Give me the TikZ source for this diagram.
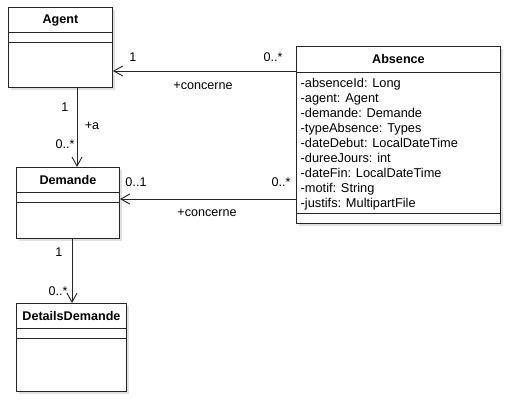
\documentclass[tikz,border=0pt]{standalone}
\usepackage{fontspec}
\setmainfont{Liberation Sans}
\usepackage{tikz}
\usetikzlibrary{positioning, arrows.meta, calc, shadows}

\begin{document}
\begin{tikzpicture}[x=1pt, y=-1pt,
    classbox/.style={draw=black!85, line width=0.9pt, fill=white, anchor=north west, inner sep=0pt,
        drop shadow={shadow xshift=2.5pt, shadow yshift=-2.5pt, opacity=0.12, fill=black}},
    classname/.style={font=\fontsize{12.6}{14}\selectfont\bfseries, anchor=base, inner sep=0pt},
    attr/.style={font=\fontsize{12.8}{14}\selectfont, anchor=base west, inner sep=0pt},
    mult/.style={font=\fontsize{12.6}{14}\selectfont, inner sep=0pt},
    divider/.style={draw=black!85, line width=0.9pt},
    assoc/.style={draw=black!85, line width=0.9pt, -{Straight Barb[length=9pt, width=10pt, line width=0.9pt]}}
    ]
        \useasboundingbox[fill=white] (0,0) rectangle (511,401);

        % classes
        \node[classbox, minimum width=104pt, minimum height=80pt] (agent) at (8,7) {};
        \node[classbox, minimum width=103pt, minimum height=71pt] (demande) at (16,167) {};
        \node[classbox, minimum width=110pt, minimum height=88pt] (details) at (16,303) {};
        \node[classbox, minimum width=204pt, minimum height=177pt] (absence) at (296,46) {};

        % class names
        \node[classname] (agentname) at ($(agent.north)+(0,17)$) {Agent};
        \node[classname] (demandename) at ($(demande.north)+(0,17)$) {Demande};
        \node[classname] (detailsname) at ($(details.north)+(0,17.5)$) {DetailsDemande};
        \node[classname] (absencename) at ($(absence.north)+(0,18)$) {Absence};

        % compartments of the classes without attributes
        \foreach \cls in {agent,demande,details}
        {
            \draw[divider] ($(\cls.north west)+(0,25)$) -- ($(\cls.north east)+(0,25)$);
            \draw[divider] ($(\cls.north west)+(0,35)$) -- ($(\cls.north east)+(0,35)$);
        }

        % compartments of Absence
        \draw[divider] ($(absence.north west)+(0,26)$) -- ($(absence.north east)+(0,26)$);
        \draw[divider] ($(absence.south west)+(0,-10)$) -- ($(absence.south east)+(0,-10)$);

        % attributes
        \foreach \i/\txt in {0/{-absenceId: Long}, 1/{-agent: Agent}, 2/{-demande: Demande},
            3/{-typeAbsence: Types}, 4/{-dateDebut: LocalDateTime}, 5/{-dureeJours: int},
            6/{-dateFin: LocalDateTime}, 7/{-motif: String}, 8/{-justifs: MultipartFile}}
        {
            \node[attr] (attr\i) at (300.5, 87.5 + 15*\i) {\txt};
        }

        % associations
        \draw[assoc] (absence.west |- 0,71) -- (agent.east |- 0,71);
        \draw[assoc] (agent.south -| 77,0) -- (demande.north -| 77,0);
        \draw[assoc] (absence.west |- 0,199) -- (demande.east |- 0,199);
        \draw[assoc] (demande.south -| 72,0) -- (details.north -| 72,0);

        % multiplicities and roles
        \node[mult] (agentone) at (133,57) {1};
        \node[mult] (absmanyone) at (273,57) {0..*};
        \node[mult] (roleone) at (203,86) {+concerne};
        \node[mult] (agentsrc) at (65,107) {1};
        \node[mult] (rolea) at (92,126) {+a};
        \node[mult] (demmany) at (65,144) {0..*};
        \node[mult] (demopt) at (136,182) {0..1};
        \node[mult] (absmanytwo) at (281,182) {0..*};
        \node[mult] (roletwo) at (207,213) {+concerne};
        \node[mult] (demsrc) at (59,252) {1};
        \node[mult] (detmany) at (58,291) {0..*};
    \end{tikzpicture}
\end{document}
